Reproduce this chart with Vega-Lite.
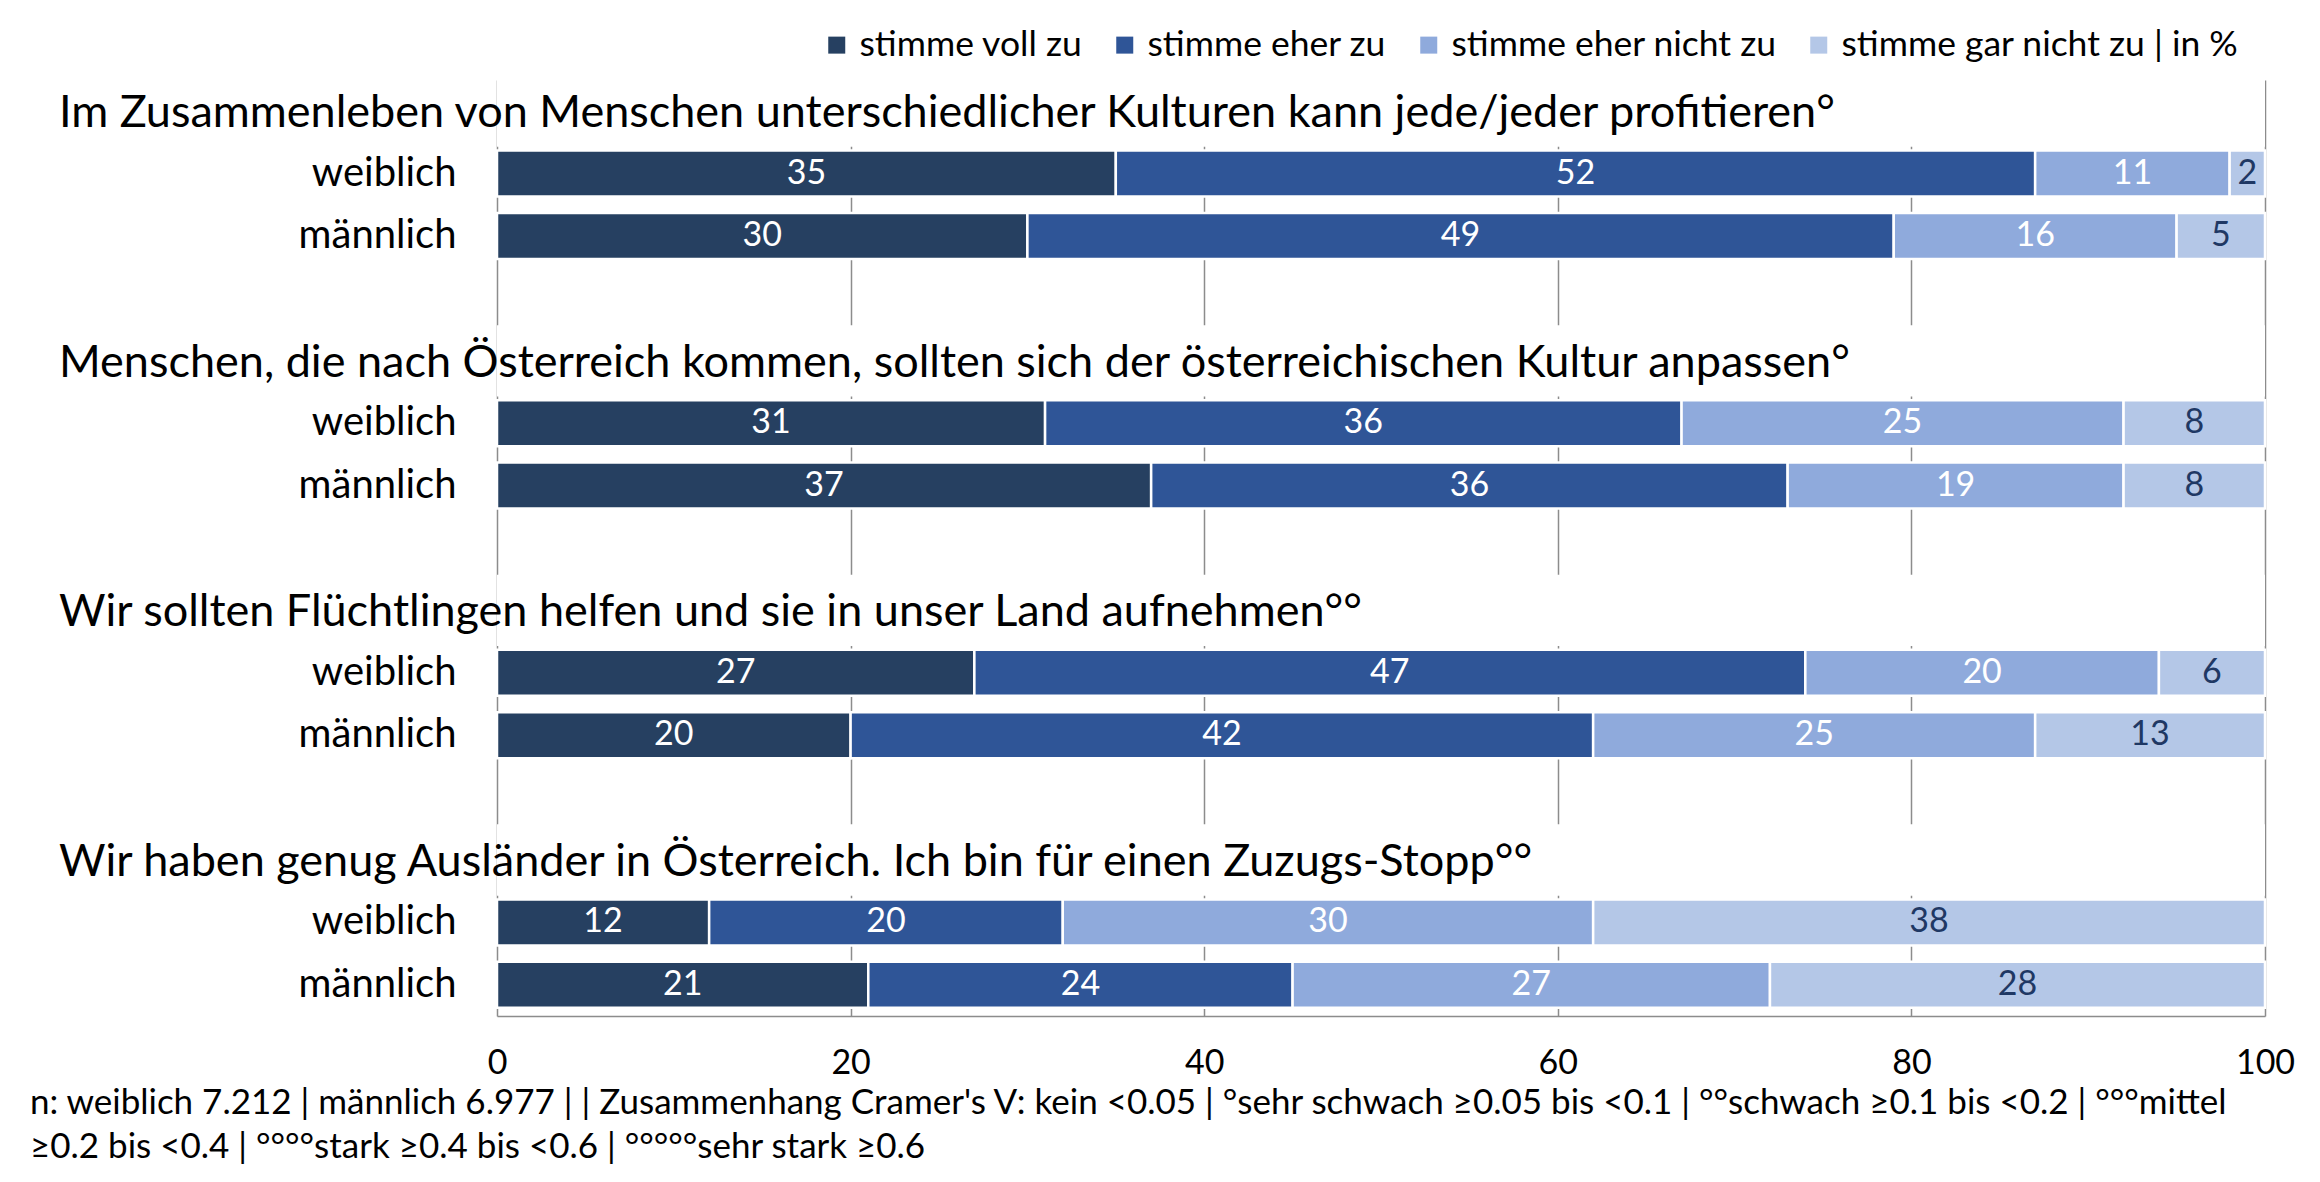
{
  "$schema": "https://vega.github.io/schema/vega-lite/v6.json",
  "width": 1768,
  "height": 936,
  "autosize": {"type": "none"},
  "padding": {"left": 497, "top": 80, "right": 55, "bottom": 166},
  "background": "white",
  "config": {
    "view": {"stroke": null},
    "font": "Lato",
    "title": {"font": "Lato", "fontWeight": "normal", "color": "#000000"}
  },
  "title": {
    "text": [
      "n:  weiblich 7.212 | männlich 6.977 | | Zusammenhang Cramer's V: kein <0.05 | °sehr schwach ≥0.05 bis <0.1 | °°schwach ≥0.1 bis <0.2 | °°°mittel",
      "≥0.2 bis <0.4 | °°°°stark ≥0.4 bis <0.6 | °°°°°sehr stark ≥0.6"
    ],
    "orient": "bottom",
    "anchor": "start",
    "frame": "group",
    "fontSize": 35,
    "lineHeight": 44,
    "dx": -467,
    "offset": 6
  },
  "datasets": {
    "bars": [
      {"row": "w1|weiblich", "cat": "stimme voll zu", "o": 1, "v": 35},
      {"row": "w1|weiblich", "cat": "stimme eher zu", "o": 2, "v": 52},
      {"row": "w1|weiblich", "cat": "stimme eher nicht zu", "o": 3, "v": 11},
      {"row": "w1|weiblich", "cat": "stimme gar nicht zu", "o": 4, "v": 2},
      {"row": "m1|männlich", "cat": "stimme voll zu", "o": 1, "v": 30},
      {"row": "m1|männlich", "cat": "stimme eher zu", "o": 2, "v": 49},
      {"row": "m1|männlich", "cat": "stimme eher nicht zu", "o": 3, "v": 16},
      {"row": "m1|männlich", "cat": "stimme gar nicht zu", "o": 4, "v": 5},
      {"row": "w2|weiblich", "cat": "stimme voll zu", "o": 1, "v": 31},
      {"row": "w2|weiblich", "cat": "stimme eher zu", "o": 2, "v": 36},
      {"row": "w2|weiblich", "cat": "stimme eher nicht zu", "o": 3, "v": 25},
      {"row": "w2|weiblich", "cat": "stimme gar nicht zu", "o": 4, "v": 8},
      {"row": "m2|männlich", "cat": "stimme voll zu", "o": 1, "v": 37},
      {"row": "m2|männlich", "cat": "stimme eher zu", "o": 2, "v": 36},
      {"row": "m2|männlich", "cat": "stimme eher nicht zu", "o": 3, "v": 19},
      {"row": "m2|männlich", "cat": "stimme gar nicht zu", "o": 4, "v": 8},
      {"row": "w3|weiblich", "cat": "stimme voll zu", "o": 1, "v": 27},
      {"row": "w3|weiblich", "cat": "stimme eher zu", "o": 2, "v": 47},
      {"row": "w3|weiblich", "cat": "stimme eher nicht zu", "o": 3, "v": 20},
      {"row": "w3|weiblich", "cat": "stimme gar nicht zu", "o": 4, "v": 6},
      {"row": "m3|männlich", "cat": "stimme voll zu", "o": 1, "v": 20},
      {"row": "m3|männlich", "cat": "stimme eher zu", "o": 2, "v": 42},
      {"row": "m3|männlich", "cat": "stimme eher nicht zu", "o": 3, "v": 25},
      {"row": "m3|männlich", "cat": "stimme gar nicht zu", "o": 4, "v": 13},
      {"row": "w4|weiblich", "cat": "stimme voll zu", "o": 1, "v": 12},
      {"row": "w4|weiblich", "cat": "stimme eher zu", "o": 2, "v": 20},
      {"row": "w4|weiblich", "cat": "stimme eher nicht zu", "o": 3, "v": 30},
      {"row": "w4|weiblich", "cat": "stimme gar nicht zu", "o": 4, "v": 38},
      {"row": "m4|männlich", "cat": "stimme voll zu", "o": 1, "v": 21},
      {"row": "m4|männlich", "cat": "stimme eher zu", "o": 2, "v": 24},
      {"row": "m4|männlich", "cat": "stimme eher nicht zu", "o": 3, "v": 27},
      {"row": "m4|männlich", "cat": "stimme gar nicht zu", "o": 4, "v": 28}
    ],
    "titles": [
      {"row": "t1|", "t": "Im Zusammenleben von Menschen unterschiedlicher Kulturen kann jede/jeder profitieren°"},
      {"row": "t2|", "t": "Menschen, die nach Österreich kommen, sollten sich der österreichischen Kultur anpassen°"},
      {"row": "t3|", "t": "Wir sollten Flüchtlingen helfen und sie in unser Land aufnehmen°°"},
      {"row": "t4|", "t": "Wir haben genug Ausländer in Österreich. Ich bin für einen Zuzugs-Stopp°°"}
    ]
  },
  "layer": [
    {
      "data": {"name": "bars"},
      "transform": [
        {"stack": "v", "groupby": ["row"], "sort": [{"field": "o"}], "as": ["x0", "x1"]}
      ],
      "layer": [
        {
          "mark": {"type": "bar", "stroke": "white", "strokeWidth": 2.5},
          "encoding": {
            "y": {
              "field": "row",
              "type": "nominal",
              "sort": null,
              "scale": {
                "domain": ["t1|", "w1|weiblich", "m1|männlich", "s1|", "t2|", "w2|weiblich", "m2|männlich", "s2|", "t3|", "w3|weiblich", "m3|männlich", "s3|", "t4|", "w4|weiblich", "m4|männlich"],
                "paddingInner": 0.263,
                "paddingOuter": 0.1315
              },
              "axis": {
                "title": null,
                "domain": false,
                "ticks": false,
                "grid": false,
                "labelFontSize": 40,
                "labelPadding": 41,
                "labelColor": "#000000",
                "labelExpr": "slice(datum.value, indexof(datum.value, '|') + 1)"
              }
            },
            "x": {
              "field": "x0",
              "type": "quantitative",
              "scale": {"domain": [0, 100], "nice": false},
              "axis": {
                "title": null,
                "values": [0, 20, 40, 60, 80, 100],
                "grid": true,
                "gridColor": "#8c8c8c",
                "gridWidth": 1.5,
                "domainColor": "#8c8c8c",
                "domainWidth": 1.5,
                "ticks": false,
                "labelFlush": false,
                "labelFontSize": 34,
                "labelPadding": 30,
                "labelColor": "#000000"
              }
            },
            "x2": {"field": "x1"},
            "color": {
              "field": "cat",
              "type": "nominal",
              "sort": ["stimme voll zu", "stimme eher zu", "stimme eher nicht zu", "stimme gar nicht zu"],
              "scale": {
                "domain": ["stimme voll zu", "stimme eher zu", "stimme eher nicht zu", "stimme gar nicht zu"],
                "range": ["#264061", "#2F5597", "#8FAADC", "#B4C7E7"]
              },
              "legend": {
                "title": null,
                "orient": "none",
                "direction": "horizontal",
                "legendX": 322,
                "legendY": -53,
                "symbolType": "square",
                "symbolSize": 289,
                "symbolStrokeWidth": 0,
                "labelFontSize": 35.5,
                "labelLimit": 0,
                "labelColor": "#000000",
                "labelOffset": 5,
                "columnPadding": 24,
                "labelExpr": "datum.label == 'stimme gar nicht zu' ? 'stimme gar nicht zu | in %' : datum.label"
              }
            }
          }
        },
        {
          "mark": {
            "type": "text",
            "fontSize": 34,
            "baseline": "middle",
            "align": "center",
            "dx": {"expr": "(scale('x', datum.x1) - scale('x', datum.x0)) / 2"}
          },
          "encoding": {
            "y": {"field": "row", "type": "nominal"},
            "x": {"field": "x0", "type": "quantitative"},
            "text": {"field": "v", "type": "quantitative"},
            "color": {
              "condition": {"test": "datum.cat == 'stimme gar nicht zu'", "value": "#1F3864"},
              "value": "#ffffff"
            }
          }
        }
      ]
    },
    {
      "data": {"name": "titles"},
      "layer": [
        {
          "mark": {"type": "bar", "color": "white", "height": {"band": 1.55}},
          "encoding": {
            "y": {"field": "row", "type": "nominal"},
            "x": {"datum": 0},
            "x2": {"datum": 100}
          }
        },
        {
          "mark": {"type": "text", "fontSize": 45, "align": "left", "baseline": "middle", "dx": -438, "dy": 2, "color": "#000000"},
          "encoding": {
            "y": {"field": "row", "type": "nominal"},
            "x": {"datum": 0},
            "text": {"field": "t", "type": "nominal"}
          }
        }
      ]
    }
  ]
}
